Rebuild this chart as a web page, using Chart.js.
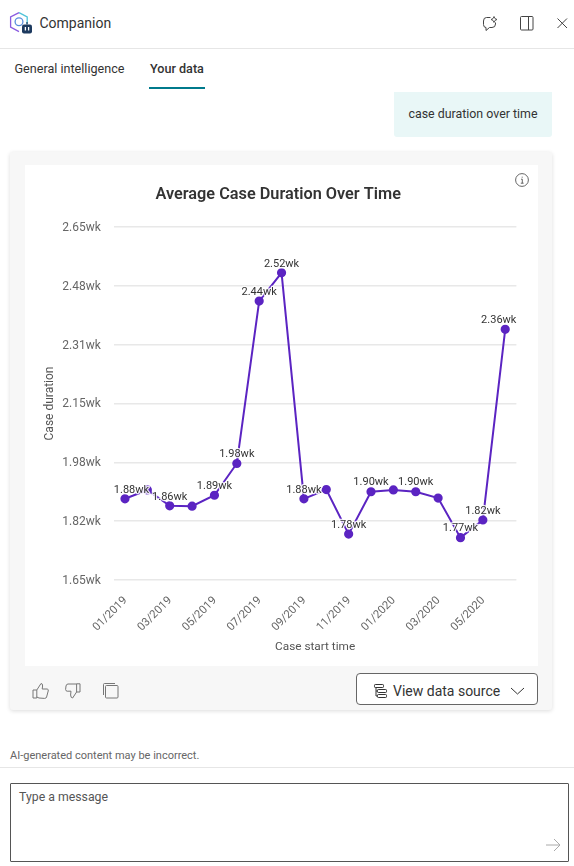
<!DOCTYPE html>
<html lang="en">
<head>
<meta charset="utf-8">
<title>Companion</title>
<script src="https://cdn.jsdelivr.net/npm/chart.js@4"></script>
<style>
  html, body { margin: 0; padding: 0; background: #fff; }
  body { width: 574px; height: 866px; position: relative; overflow: hidden; font-family: Roboto, sans-serif; color: #333; }
  .abs { position: absolute; white-space: nowrap; }
  .rule { position: absolute; left: 0; width: 574px; height: 1px; background: #e6e6e6; }
  svg { position: absolute; overflow: visible; fill: none; }
  #card { position: absolute; left: 10px; top: 152px; width: 542px; height: 558px; background: #f7f7f7; border-radius: 3px; box-shadow: 0 1px 4px rgba(0,0,0,.14); }
  #plot { position: absolute; left: 25px; top: 165px; width: 513px; height: 501px; background: #fff; }
  #bubble { position: absolute; left: 394px; top: 92px; width: 158px; height: 45px; background: #e9f7f7; border-radius: 0 0 3px 3px; line-height: 44px; text-align: center; font-size: 12.4px; }
  #source { position: absolute; left: 356px; top: 673px; width: 180px; height: 30px; border: 1px solid #666; border-radius: 4px; background: #fff; }
  #input { position: absolute; left: 10px; top: 783px; width: 557px; height: 77px; border: 1px solid #555; border-radius: 1px; }
</style>
</head>
<body>
  <!-- Header -->
  <svg style="left:9px;top:12px" width="24" height="24" viewBox="0 0 24 24">
    <path d="M10 .6 L18.2 5 V12" stroke="#4fc3d9" stroke-width="1.3"/>
    <path d="M10 .6 L1.6 5 V15 L10 19.6" stroke="#8a5be0" stroke-width="1.3"/>
    <circle cx="10" cy="9.8" r="3.9" stroke="#5a8fdc" stroke-width="1.3"/>
    <rect x="13" y="12.6" width="10" height="8.8" rx="2" fill="#1d3a5f"/>
    <path d="M18 12.6 V10" stroke="#1d3a5f" stroke-width="1.2"/>
    <path d="M16.4 15 V18.4 M19.6 15 V18.4" stroke="#fff" stroke-width="1.3"/>
  </svg>
  <div class="abs" style="left:39.5px;top:15px;font-size:14px;line-height:17px">Companion</div>
  <svg style="left:482px;top:16px" width="16" height="16" viewBox="0 0 16 16">
    <path d="M8.5 1.5 H4.5 Q1.5 1.5 1.5 5 V8.5 Q1.5 11.5 4 11.5 V14.5 L7.5 11.5 H10 Q13.5 11.5 13.5 8 V6.5" stroke="#444" stroke-width="1"/>
    <path d="M12 .5 L13 2.6 L15 3.5 L13 4.4 L12 6.5 L11 4.4 L9 3.5 L11 2.6 Z" stroke="#444" stroke-width=".9"/>
  </svg>
  <svg style="left:520px;top:16px" width="15" height="15" viewBox="0 0 15 15">
    <rect x=".5" y=".5" width="12.5" height="13.5" rx="1" stroke="#444"/>
    <path d="M8.5 .5 V14" stroke="#444"/>
  </svg>
  <svg style="left:557px;top:18px" width="11" height="11" viewBox="0 0 11 11">
    <path d="M.5 .5 L10 10 M10 .5 L.5 10" stroke="#444" stroke-width="1"/>
  </svg>
  <div class="rule" style="top:48px"></div>

  <!-- Tabs -->
  <div class="abs" style="left:14.5px;top:61px;font-size:12.6px;line-height:16px">General intelligence</div>
  <div class="abs" style="left:150px;top:61px;font-size:12.6px;line-height:16px;font-weight:500">Your data</div>
  <div class="abs" style="left:149px;top:87px;width:56px;height:2px;background:#007a8c"></div>

  <div id="bubble">case duration over time</div>

  <!-- Response card -->
  <div id="card"></div>
  <div id="plot"><canvas id="chart" width="513" height="501"></canvas></div>
  <svg style="left:515px;top:173px" width="14" height="14" viewBox="0 0 14 14">
    <circle cx="7" cy="7" r="6.4" stroke="#555" stroke-width=".9"/>
    <path d="M6 6.2 H7.3 V10.2 M5.8 10.2 H8.6 M7.2 3.7 V4.7" stroke="#555" stroke-width=".9"/>
  </svg>

  <svg style="left:32px;top:682px" width="18" height="18" viewBox="0 0 18 18">
    <path d="M1 8 H4.8 V16 H1 Z M4.8 8 L9 1.5 Q10.8 1.5 10.6 4 L10.2 7 H15.2 Q16.8 7.4 16.2 9 L14.6 15 Q14.2 16.4 12.6 16.4 L7 16 L4.8 15" stroke="#777" stroke-width="1"/>
  </svg>
  <svg style="left:65px;top:683px" width="16" height="16" viewBox="0 0 16 16">
    <path d="M15 .8 H11.6 V9 H15 Z M11.6 1 H3 Q1.4 1 1 3 L.6 6.5 Q.6 8 2.2 8.2 H6 L5.6 12 Q5.8 15 7.6 15 L11.6 9" stroke="#777" stroke-width="1"/>
  </svg>
  <svg style="left:103px;top:683px" width="16" height="16" viewBox="0 0 16 16">
    <rect x="2.5" y="2.5" width="12.5" height="12.5" rx="1" stroke="#777"/>
    <path d="M.5 12 V1.5 Q.5 .5 1.5 .5 H12" stroke="#777"/>
  </svg>

  <div id="source"></div>
  <svg style="left:374px;top:684px" width="14" height="14" viewBox="0 0 14 14">
    <rect x=".5" y=".5" width="9" height="3" rx=".8" stroke="#333"/>
    <rect x="3.5" y="5.5" width="9" height="3" rx=".8" stroke="#333"/>
    <rect x="3.5" y="10.5" width="9" height="3" rx=".8" stroke="#333"/>
    <path d="M2 3.5 V12 H3.5 M2 7 H3.5" stroke="#333"/>
  </svg>
  <div class="abs" style="left:393px;top:683px;font-size:14px;line-height:17px">View data source</div>
  <svg style="left:510px;top:687px" width="15" height="8" viewBox="0 0 15 8">
    <path d="M1 1 L7.5 7 L14 1" stroke="#333"/>
  </svg>

  <!-- Footer -->
  <div class="abs" style="left:10px;top:749px;font-size:11px;line-height:14px;color:#666">AI-generated content may be incorrect.</div>
  <div class="rule" style="top:767px"></div>
  <div id="input"></div>
  <div class="abs" style="left:19px;top:789px;font-size:12.3px;line-height:16px;color:#555">Type a message</div>
  <svg style="left:545px;top:838px" width="16" height="14" viewBox="0 0 16 14">
    <path d="M1 7 H15 M9 1 L15 7 L9 13" stroke="#aaa"/>
  </svg>

<script>
// Months of the case start time axis; every second one is printed.
const months = ['01/2019','02/2019','03/2019','04/2019','05/2019','06/2019','07/2019','08/2019','09/2019',
                '10/2019','11/2019','12/2019','01/2020','02/2020','03/2020','04/2020','05/2020','06/2020'];
// Average case duration in weeks, per month.
const durations = [1.88,1.905,1.86,1.859,1.89,1.98,2.44,2.52,1.88,1.906,1.78,1.90,1.905,1.90,1.882,1.77,1.82,2.36];
// Months whose value is printed next to the point.
const labelledMonths = ['01/2019','03/2019','05/2019','06/2019','07/2019','08/2019','09/2019','11/2019',
                        '12/2019','02/2020','04/2020','05/2020','06/2020'];
const yTickValues = [1.65,1.8167,1.9833,2.15,2.3167,2.4833,2.65];
const yTickLabels = ['1.65wk','1.82wk','1.98wk','2.15wk','2.31wk','2.48wk','2.65wk'];

const lineColor = '#5b24c2';

// Writes the duration above each selected point, kept inside the plot area,
// with a white halo over the line.
const valueLabels = {
  id: 'valueLabels',
  afterDatasetsDraw(chart) {
    const ctx = chart.ctx;
    const area = chart.chartArea;
    const points = chart.getDatasetMeta(0).data;
    ctx.save();
    ctx.font = '11px Roboto, sans-serif';
    ctx.textAlign = 'center';
    ctx.textBaseline = 'middle';
    ctx.lineJoin = 'round';
    points.forEach((pt, i) => {
      if (!labelledMonths.includes(months[i])) return;
      const text = durations[i].toFixed(2) + 'wk';
      const half = ctx.measureText(text).width / 2;
      const x = Math.min(Math.max(pt.x, area.left + half), area.right - half);
      ctx.lineWidth = 2.5;
      ctx.strokeStyle = 'rgba(255,255,255,0.85)';
      ctx.strokeText(text, x, pt.y - 9);
      ctx.fillStyle = '#333';
      ctx.fillText(text, x, pt.y - 9);
    });
    ctx.restore();
  }
};

new Chart(document.getElementById('chart'), {
  type: 'line',
  data: {
    labels: months,
    datasets: [{
      data: durations,
      borderColor: lineColor,
      backgroundColor: lineColor,
      borderWidth: 2,
      pointRadius: 3.6,
      pointHoverRadius: 3.6,
      tension: 0
    }]
  },
  options: {
    responsive: false,
    animation: false,
    layout: { padding: { left: 15, right: 21.6, top: 0, bottom: 0 } },
    plugins: {
      legend: { display: false },
      tooltip: { enabled: false },
      title: {
        display: true,
        text: 'Average Case Duration Over Time',
        color: '#333',
        font: { family: 'Roboto, sans-serif', size: 16.3, weight: '600', lineHeight: 1.2 },
        padding: { top: 20.6, bottom: 21.8 }
      }
    },
    scales: {
      x: {
        offset: true,
        border: { display: false },
        grid: { display: false },
        afterFit(scale) { scale.height = 86; },
        ticks: {
          autoSkip: false,
          minRotation: 45,
          maxRotation: 45,
          color: '#666',
          padding: 6,
          labelOffset: 0.5,
          font: { family: 'Roboto, sans-serif', size: 11.4 },
          callback(value, index) { return index % 2 ? null : months[index]; }
        },
        title: {
          display: true,
          text: 'Case start time',
          color: '#555',
          font: { family: 'Roboto, sans-serif', size: 11.8 },
          padding: { top: 0, bottom: 12 }
        }
      },
      y: {
        min: 1.65,
        max: 2.65,
        border: { display: false },
        grid: { color: '#e8e8e8', lineWidth: 1.5, drawTicks: false },
        afterBuildTicks(scale) { scale.ticks = yTickValues.map(value => ({ value })); },
        afterFit(scale) { scale.width = 73.8; },
        ticks: {
          color: '#666',
          padding: 13,
          labelOffset: 1,
          font: { family: 'Roboto, sans-serif', size: 12 },
          callback(value, index) { return yTickLabels[index]; }
        },
        title: {
          display: true,
          text: 'Case duration',
          color: '#555',
          font: { family: 'Roboto, sans-serif', size: 12 },
          padding: { top: 3, bottom: 0 }
        }
      }
    }
  },
  plugins: [valueLabels]
});
</script>
</body>
</html>
